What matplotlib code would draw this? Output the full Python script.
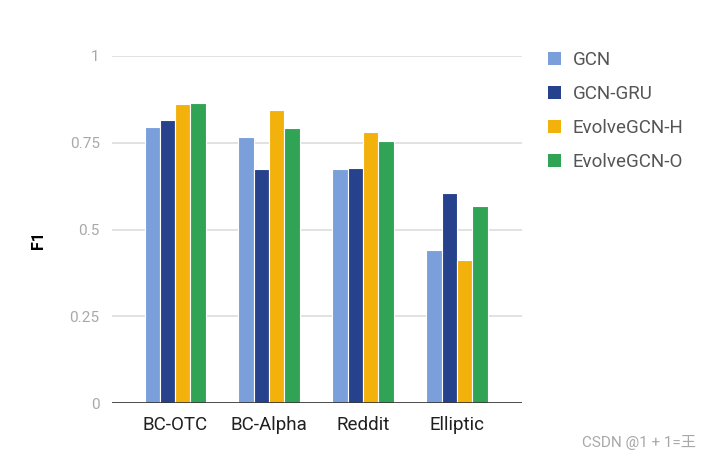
import numpy as np
import matplotlib
matplotlib.use('Agg')
import matplotlib.pyplot as plt
from matplotlib.patches import Patch

plt.rcParams['font.family'] = ['Roboto', 'Noto Sans CJK SC', 'DejaVu Sans']

# 数据
datasets = ['BC-OTC', 'BC-Alpha', 'Reddit', 'Elliptic']
models = ['GCN', 'GCN-GRU', 'EvolveGCN-H', 'EvolveGCN-O']
gcn = [0.795, 0.767, 0.673, 0.440]
gcn_gru = [0.816, 0.673, 0.678, 0.604]
evolve_h = [0.861, 0.845, 0.781, 0.413]
evolve_o = [0.865, 0.792, 0.755, 0.569]
colors = ['#7b9fdb', '#27428c', '#f3b10c', '#30a354']

fig = plt.figure(figsize=(7.1, 4.59), dpi=100)
ax = fig.add_axes([0.158, 0.122, 0.577, 0.756])

x = np.arange(len(datasets))
w = 0.163
series = [gcn, gcn_gru, evolve_h, evolve_o]
for i, vals in enumerate(series):
    ax.bar(x + (i - 1.5) * w, vals, width=w, color=colors[i],
           edgecolor='white', linewidth=0.8, zorder=3)

ax.set_xlim(-0.67, 3.69)
ax.set_ylim(0, 1)
ax.set_yticks([0, 0.25, 0.5, 0.75, 1])
ax.set_yticklabels(['0', '0.25', '0.5', '0.75', '1'])
ax.set_xticks(x)
ax.set_xticklabels(datasets, fontsize=13.5, color='#202020')
ax.tick_params(axis='x', length=0, pad=9)
ax.tick_params(axis='y', length=0, pad=9, labelsize=11, labelcolor='#a8a8a8')
ax.grid(axis='y', color='#dddddd', linewidth=1.2, zorder=0)
ax.axhline(0, color='#333333', linewidth=1.2, zorder=4)
for s in ax.spines.values():
    s.set_visible(False)

fig.text(0.054, 0.477, 'F1', rotation=90, fontsize=11.5, fontweight='bold',
         ha='center', va='center')

handles = [Patch(facecolor=c, edgecolor='none') for c in colors]
fig.legend(handles, models, loc='upper left', bbox_to_anchor=(0.772, 0.889),
           frameon=False, fontsize=13.5, handlelength=0.7, handleheight=0.7,
           handletextpad=0.6, labelspacing=0.86, borderpad=0, borderaxespad=0,
           labelcolor='#555555')

fig.text(0.98, 0.035, 'CSDN @1 + 1=王', fontsize=11, color='#a8a8a8',
         ha='right', va='center')

fig.savefig('out.png', dpi=100)
